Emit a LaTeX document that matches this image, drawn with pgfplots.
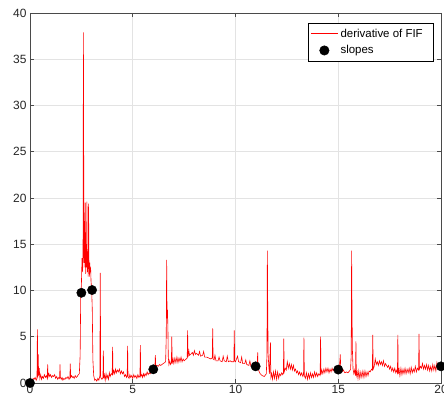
\documentclass[border=0pt]{standalone}
\usepackage{fontspec}
\setmainfont{Liberation Sans}
\usepackage{pgfplots}
\pgfplotsset{compat=1.18}
\definecolor{gridc}{HTML}{E3E3E3}
\definecolor{axc}{HTML}{4A4A4A}
\definecolor{fifred}{HTML}{FF0000}
\begin{document}
\begin{tikzpicture}
\begin{axis}[
  at={(0,0)}, anchor=south west,
  scale only axis, width=411bp, height=370bp,
  xmin=0, xmax=20, ymin=0, ymax=40,
  xtick={0,5,10,15,20}, ytick={0,5,...,40},
  grid=major, major grid style={gridc, line width=0.6pt},
  axis line style={axc, line width=0.9pt},
  tick style={axc, line width=0.7pt},
  tick align=inside, major tick length=4bp,
  xtick pos=both, ytick pos=both,
  ticklabel style={font=\fontsize{12}{14}\selectfont, text=black!85},
  /pgf/number format/assume math mode=true,
  xticklabel style={yshift=1bp},
  clip=false,
  legend style={at={(rel axis cs:1,1)}, anchor=north east, xshift=-7bp, yshift=-10bp,
    line width=0.6pt, font=\fontsize{11.5}{13}\selectfont,
    inner xsep=2bp, inner ysep=3.5bp, row sep=3bp, cells={anchor=west}},
]
\addplot[fifred, line width=0.6pt, mark=none,
  legend image code/.code={\draw[fifred, line width=1.2pt] (0cm,0.5bp) -- (0.96cm,0.5bp);}] coordinates {
(0,0) (0.05,0.3) (0.1,0.2) (0.15,0.5) (0.2,0.4) (0.25,0.6) (0.3,0.3) (0.34,0.5) (0.36,5.8) (0.38,0.6)
(0.40,3.1) (0.42,0.8) (0.45,1.6) (0.48,0.5) (0.52,0.9) (0.56,0.4) (0.60,0.7) (0.65,0.5) (0.70,0.9) (0.75,0.6)
(0.80,0.8) (0.84,0.5) (0.86,2.0) (0.88,0.7) (0.92,1.0) (0.96,0.7) (1.00,0.9) (1.05,0.6) (1.10,0.8) (1.15,0.7)
(1.20,0.9) (1.25,0.5) (1.30,0.7) (1.35,0.4) (1.40,0.6) (1.44,0.5) (1.46,2.0) (1.48,0.6) (1.52,0.4) (1.56,0.6)
(1.60,0.3) (1.65,0.5) (1.70,0.4) (1.75,0.6) (1.80,0.5) (1.85,0.7) (1.90,0.4) (1.94,0.6) (1.96,2.1) (1.98,0.6)
(2.02,0.8) (2.06,0.6) (2.10,0.7) (2.15,0.5) (2.20,0.8) (2.25,0.6) (2.30,0.7) (2.35,0.9) (2.40,1.0) (2.44,3.0)
(2.47,9.8) (2.50,10.5) (2.53,13.5) (2.56,12.0) (2.58,13.8) (2.60,37.9) (2.61,14.0) (2.62,24.6) (2.63,13.0) (2.65,17.5)
(2.67,12.5) (2.69,19.5) (2.71,11.8) (2.73,15.0) (2.75,12.5) (2.77,19.6) (2.79,12.0) (2.81,14.0) (2.83,11.5) (2.85,19.4)
(2.87,12.8) (2.89,11.5) (2.91,13.0) (2.93,12.0) (2.95,12.5) (2.97,11.0) (3.00,10.1) (3.03,8.0) (3.06,2.5) (3.10,0.8)
(3.15,0.3) (3.20,0.4) (3.25,0.2) (3.30,0.5) (3.35,0.3) (3.40,0.8) (3.42,11.9) (3.44,0.6) (3.50,0.4) (3.55,0.6)
(3.57,3.5) (3.59,0.5) (3.62,0.9) (3.66,0.3) (3.70,1.0) (3.74,0.5) (3.78,0.8) (3.82,0.4) (3.86,1.1) (3.90,0.7)
(3.95,1.0) (4.00,0.9) (4.02,3.9) (4.04,1.0) (4.08,1.3) (4.12,1.0) (4.16,1.5) (4.20,1.1) (4.25,1.4) (4.30,1.2)
(4.35,1.5) (4.40,1.0) (4.45,1.3) (4.50,1.0) (4.55,1.2) (4.60,0.7) (4.65,0.9) (4.70,0.6) (4.73,0.8) (4.75,4.0)
(4.77,0.7) (4.82,0.5) (4.86,0.9) (4.90,0.6) (4.95,0.8) (5.00,0.5) (5.05,0.9) (5.10,0.6) (5.15,0.8) (5.20,0.5)
(5.25,0.9) (5.30,0.6) (5.35,0.8) (5.37,4.1) (5.39,0.7) (5.44,0.9) (5.48,0.6) (5.52,1.0) (5.56,0.7) (5.60,1.0)
(5.65,0.8) (5.70,1.2) (5.75,0.9) (5.80,1.1) (5.85,1.0) (5.90,1.3) (5.95,1.4) (6.00,1.5) (6.05,1.6) (6.08,1.9)
(6.10,3.0) (6.12,1.8) (6.18,1.9) (6.24,1.8) (6.30,2.0) (6.36,1.9) (6.42,2.0) (6.48,2.1) (6.55,2.2) (6.60,2.3)
(6.63,5.0) (6.65,13.3) (6.67,7.0) (6.69,7.9) (6.71,6.0) (6.73,2.8) (6.76,2.0) (6.80,2.4) (6.84,2.0) (6.88,2.2)
(6.90,5.0) (6.92,2.1) (6.96,2.6) (7.00,2.1) (7.05,2.7) (7.10,2.2) (7.15,2.8) (7.20,2.2) (7.25,2.7) (7.30,2.3)
(7.35,2.8) (7.40,2.3) (7.45,2.6) (7.50,2.4) (7.55,2.5) (7.60,2.6) (7.65,2.7) (7.67,5.7) (7.69,2.8) (7.73,3.5)
(7.76,3.0) (7.82,3.1) (7.90,3.3) (7.95,3.0) (8.00,3.5) (8.05,3.1) (8.10,3.2) (8.20,3.0) (8.25,3.4) (8.30,2.9)
(8.40,3.0) (8.45,3.4) (8.50,2.8) (8.60,2.8) (8.70,2.7) (8.80,2.6) (8.87,2.7) (8.89,5.9) (8.91,2.6) (8.96,2.5)
(9.00,3.0) (9.05,2.4) (9.15,2.4) (9.20,2.8) (9.25,2.4) (9.35,2.3) (9.40,2.9) (9.45,2.4) (9.55,2.3) (9.60,2.9)
(9.65,2.3) (9.75,2.4) (9.80,2.3) (9.92,2.3) (9.94,5.7) (9.96,2.4) (10.0,2.3) (10.10,2.9) (10.15,2.3) (10.25,2.2)
(10.30,2.8) (10.35,2.1) (10.45,2.1) (10.50,2.5) (10.55,2.0) (10.65,1.9) (10.70,2.4) (10.75,1.8) (10.85,1.8) (10.90,2.0)
(10.98,1.8) (11.05,1.7) (11.08,3.3) (11.10,1.5) (11.20,1.0) (11.30,0.8) (11.40,0.7) (11.50,1.0) (11.53,3.0) (11.55,14.3)
(11.57,7.8) (11.59,3.0) (11.62,1.8) (11.65,1.0) (11.70,4.4) (11.72,0.6) (11.76,1.0) (11.80,0.4) (11.85,1.2) (11.90,0.5)
(11.95,1.3) (12.00,0.4) (12.05,1.2) (12.10,0.5) (12.15,1.0) (12.20,0.8) (12.25,1.1) (12.30,0.9) (12.33,1.1) (12.35,4.8)
(12.37,1.2) (12.42,1.6) (12.47,1.4) (12.52,2.3) (12.57,1.6) (12.62,2.1) (12.67,1.5) (12.72,2.0) (12.77,1.4) (12.82,1.9)
(12.87,1.3) (12.92,1.5) (12.97,1.1) (13.02,1.3) (13.07,0.9) (13.12,1.2) (13.17,0.8) (13.22,1.1) (13.28,0.7) (13.31,0.9)
(13.33,4.9) (13.35,0.8) (13.40,0.5) (13.45,1.1) (13.50,0.4) (13.55,1.0) (13.60,0.5) (13.65,1.1) (13.70,0.6) (13.75,1.0)
(13.80,0.6) (13.85,1.2) (13.90,0.7) (13.95,1.1) (14.00,0.7) (14.05,1.0) (14.12,0.8) (14.14,5.0) (14.16,0.9) (14.20,1.4)
(14.25,1.0) (14.30,1.5) (14.35,1.1) (14.40,1.6) (14.45,1.2) (14.50,1.6) (14.55,1.1) (14.60,1.5) (14.65,1.2) (14.70,1.6)
(14.75,1.3) (14.80,1.5) (14.85,1.3) (14.90,1.6) (14.95,1.4) (15.00,1.45) (15.05,1.5) (15.10,3.1) (15.12,1.4) (15.18,1.2)
(15.25,1.4) (15.32,1.1) (15.40,1.2) (15.47,1.1) (15.55,1.3) (15.60,1.5) (15.63,3.0) (15.65,14.3) (15.67,7.9) (15.69,3.5)
(15.72,1.5) (15.76,1.0) (15.80,1.4) (15.84,0.8) (15.86,4.5) (15.88,0.8) (15.92,1.2) (15.96,0.5) (16.00,1.3) (16.05,0.5)
(16.10,1.2) (16.15,0.6) (16.20,1.3) (16.25,0.6) (16.30,1.3) (16.35,0.7) (16.40,1.2) (16.45,0.8) (16.50,1.3) (16.55,1.2)
(16.62,1.5) (16.66,1.4) (16.68,5.2) (16.70,1.5) (16.75,1.8) (16.80,2.6) (16.85,2.0) (16.90,2.3) (16.95,1.9) (17.00,2.4)
(17.05,2.0) (17.10,2.3) (17.15,1.9) (17.20,2.4) (17.25,1.8) (17.30,2.1) (17.40,1.7) (17.45,1.9) (17.50,1.5) (17.55,1.8)
(17.60,1.3) (17.65,1.6) (17.70,1.2) (17.75,1.6) (17.80,1.1) (17.85,1.4) (17.88,1.1) (17.90,5.2) (17.92,1.0) (17.96,1.5)
(18.00,0.8) (18.05,1.6) (18.10,0.9) (18.15,1.5) (18.20,1.0) (18.25,1.6) (18.30,1.0) (18.35,1.5) (18.40,1.1) (18.45,1.6)
(18.50,1.0) (18.55,1.7) (18.60,1.1) (18.65,1.5) (18.70,1.2) (18.75,1.8) (18.80,1.2) (18.85,1.6) (18.91,1.4) (18.93,5.3)
(18.95,1.5) (19.00,1.8) (19.05,1.6) (19.10,2.1) (19.15,1.5) (19.20,1.9) (19.25,1.5) (19.30,2.0) (19.35,1.4) (19.40,1.9)
(19.45,1.3) (19.50,1.8) (19.55,1.3) (19.60,2.0) (19.65,1.4) (19.70,1.9) (19.75,1.3) (19.80,2.2) (19.85,1.5) (19.90,1.6)
(19.95,1.8) (20.00,1.8)
};
\addlegendentry{derivative of FIF\hspace*{7bp}}
\addplot[only marks, mark=*, mark size=4.7pt, black,
  legend image code/.code={\fill[black] (0.48cm,0cm) circle[radius=4.7pt];}] coordinates {
(0,0) (2.50,9.75) (3.02,10.05) (6.0,1.48) (10.98,1.8) (15.0,1.45) (20,1.8)
};
\addlegendentry{slopes}
\end{axis}
\pgfresetboundingbox
\useasboundingbox (-30bp,-27bp) rectangle (414bp,383bp);
\end{tikzpicture}
\end{document}
